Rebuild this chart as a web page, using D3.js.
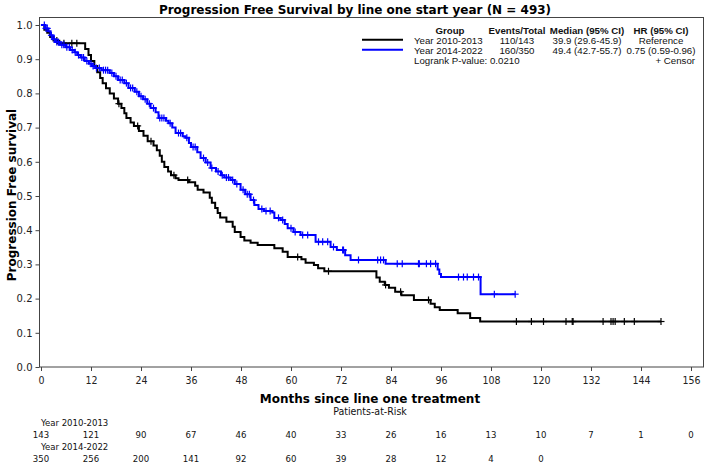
<!DOCTYPE html>
<html><head><meta charset="utf-8">
<script src="https://cdn.jsdelivr.net/npm/d3@7"></script>
<style>body{margin:0;background:#fff} svg{display:block}</style>
</head><body>
<svg id="chart" width="709" height="462"></svg>
<script>
// ---------- data ----------
const titleText = "Progression Free Survival by line one start year (N = 493)";
const xLabel = "Months since line one treatment";
const yLabel = "Progression Free survival";
const groups = ["Year 2010-2013", "Year 2014-2022"];
const groupColors = ["#000000", "#0000ff"];
const eventsTotal = ["110/143", "160/350"];
const medians = ["39.9 (29.6-45.9)", "49.4 (42.7-55.7)"];
const hazardRatios = ["Reference", "0.75 (0.59-0.96)"];
const logrankText = "Logrank P-value: 0.0210";
const xTicks = [0, 12, 24, 36, 48, 60, 72, 84, 96, 108, 120, 132, 144, 156];
const yTicks = [0, 0.1, 0.2, 0.3, 0.4, 0.5, 0.6, 0.7, 0.8, 0.9, 1.0];
const atRisk1 = [143, 121, 90, 67, 46, 40, 33, 26, 16, 13, 10, 7, 1, 0];
const atRisk2 = [350, 256, 200, 141, 92, 60, 39, 28, 12, 4, 0];

// Group 1 (2010-2013) step times (months) and survival after each drop
const times1 = [0, 0.8, 1.5, 2.2, 3.0, 4.0, 10.6, 11.4, 12.0, 12.8, 13.5, 14.2, 14.8, 15.6, 16.5, 17.5, 18.5, 19.3, 20.0, 20.5, 21.5, 22.3, 23.5, 24.6, 25.6, 27.0, 27.8, 28.5, 29.0, 29.6, 30.5, 31.2, 32.3, 33.0, 35.5, 37.0, 37.6, 39.0, 40.5, 41.0, 41.8, 42.4, 43.0, 44.5, 46.0, 46.5, 47.9, 48.8, 50.3, 52.0, 56.0, 58.0, 59.2, 62.5, 63.5, 65.5, 66.5, 68.0, 80.5, 81.3, 82.5, 83.5, 85.0, 86.5, 89.5, 93.5, 94.5, 95.7, 100.0, 103.0, 105.4];
const surv1 = [1, 0.986, 0.977, 0.965, 0.955, 0.947, 0.93, 0.912, 0.895, 0.88, 0.862, 0.845, 0.83, 0.815, 0.80, 0.785, 0.77, 0.757, 0.742, 0.728, 0.715, 0.705, 0.69, 0.676, 0.66, 0.648, 0.634, 0.618, 0.60, 0.585, 0.572, 0.561, 0.552, 0.547, 0.54, 0.53, 0.518, 0.51, 0.495, 0.48, 0.465, 0.45, 0.437, 0.425, 0.41, 0.395, 0.38, 0.37, 0.363, 0.357, 0.347, 0.337, 0.322, 0.315, 0.305, 0.298, 0.289, 0.28, 0.262, 0.249, 0.24, 0.232, 0.22, 0.21, 0.196, 0.185, 0.175, 0.167, 0.157, 0.143, 0.133];
const censor1 = [3.8, 5.5, 7.4, 8.6, 18.7, 23.2, 26.4, 31.9, 35.2, 61.6, 69.0, 82.7, 86.3, 93.0, 114.1, 117.7, 120.6, 126.0, 127.5, 127.7, 134.9, 136.8, 137.3, 137.8, 140.0, 142.4, 148.8];

// Group 2 (2014-2022)
const times2 = [0, 1.0, 1.8, 2.3, 2.8, 3.5, 4.5, 6.0, 7.0, 8.0, 8.7, 9.5, 10.5, 11.5, 12.2, 13.0, 14.5, 16.5, 17.5, 18.5, 20.0, 21.0, 22.5, 23.5, 24.5, 25.5, 26.3, 27.5, 28.2, 30.0, 30.6, 31.5, 32.3, 34.0, 34.7, 35.5, 36.0, 37.5, 38.3, 39.5, 40.7, 42.0, 43.2, 44.0, 45.5, 46.5, 47.9, 49.0, 50.3, 51.2, 52.2, 53.5, 55.5, 56.0, 57.5, 58.5, 59.2, 60.6, 62.3, 65.9, 69.5, 71.0, 73.0, 74.3, 82.7, 95.2, 95.6, 96.0, 105.5];
const surv2 = [1, 0.99, 0.982, 0.97, 0.958, 0.95, 0.942, 0.935, 0.927, 0.92, 0.912, 0.905, 0.895, 0.887, 0.88, 0.874, 0.868, 0.86, 0.85, 0.839, 0.83, 0.816, 0.805, 0.792, 0.783, 0.77, 0.757, 0.745, 0.728, 0.72, 0.713, 0.70, 0.684, 0.675, 0.67, 0.655, 0.643, 0.628, 0.611, 0.598, 0.582, 0.572, 0.561, 0.554, 0.547, 0.535, 0.518, 0.505, 0.488, 0.474, 0.462, 0.456, 0.452, 0.436, 0.43, 0.418, 0.406, 0.395, 0.386, 0.366, 0.351, 0.342, 0.327, 0.313, 0.302, 0.285, 0.272, 0.263, 0.213];
const censor2 = [0.8, 1.2, 1.5, 2.5, 3.2, 3.8, 4.2, 5.0, 5.5, 6.2, 6.8, 7.5, 8.2, 9.0, 9.8, 10.2, 11.0, 12.0, 12.5, 13.3, 14.0, 15.0, 15.5, 16.0, 17.0, 18.0, 19.0, 19.5, 20.5, 21.5, 22.0, 23.0, 24.0, 25.0, 26.0, 27.0, 28.5, 29.0, 29.5, 31.0, 33.0, 33.5, 35.0, 36.5, 37.0, 39.0, 40.0, 41.0, 42.5, 43.5, 44.5, 45.0, 46.0, 47.0, 48.5, 49.5, 50.0, 51.0, 53.0, 54.0, 55.0, 57.0, 58.0, 60.0, 61.0, 62.8, 64.0, 66.6, 67.6, 68.8, 70.2, 72.4, 72.6, 76.2, 80.8, 81.5, 82.2, 85.5, 86.7, 90.6, 90.8, 92.5, 93.5, 94.7, 100.2, 101.4, 102.3, 103.8, 105.0, 108.8, 113.8];

// ---------- layout ----------
const svg = d3.select("#chart");
const frame = {left: 39.5, right: 703.5, top: 17.5, bottom: 367};
const x = d3.scaleLinear().domain([0, 156]).range([41, 691]);
const y = d3.scaleLinear().domain([0, 1]).range([367, 25]);
const sans = "'Liberation Sans', Arial, sans-serif";
const dejavu = "'DejaVu Sans', Verdana, sans-serif";
const cond = "'DejaVu Sans Condensed', 'DejaVu Sans', sans-serif";

function condensed(sel, size) {
  sel.style("font-family", cond).style("font-stretch", "condensed").style("font-size", size);
}

// frame
svg.append("rect").attr("x", frame.left).attr("y", frame.top)
  .attr("width", frame.right - frame.left).attr("height", frame.bottom - frame.top)
  .attr("fill", "none").attr("stroke", "#444").attr("stroke-width", 1);

// axes
const xAxis = svg.append("g").attr("transform", `translate(0,${frame.bottom})`)
  .call(d3.axisBottom(x).tickValues(xTicks).tickSize(4).tickSizeOuter(0).tickFormat(d3.format("d")));
const yAxis = svg.append("g").attr("transform", `translate(${frame.left},0)`)
  .call(d3.axisLeft(y).tickValues(yTicks).tickSize(4).tickSizeOuter(0).tickFormat(d3.format(".1f")));
[xAxis, yAxis].forEach(g => {
  g.select(".domain").remove();
  g.selectAll("line").attr("stroke", "#444");
  g.selectAll("text").attr("fill", "#222");
});
yAxis.selectAll("text").style("font-family", dejavu).style("font-size", "10px");
condensed(xAxis.selectAll("text"), "10.5px");
xAxis.selectAll("text").attr("dy", "0.95em");

// titles
svg.append("text").attr("x", 355).attr("y", 14).attr("text-anchor", "middle")
  .style("font-family", dejavu).style("font-weight", "bold").style("font-size", "12px").text(titleText);
svg.append("text").attr("x", 370).attr("y", 403).attr("text-anchor", "middle")
  .style("font-family", dejavu).style("font-weight", "bold").style("font-size", "12px").text(xLabel);
svg.append("text").attr("transform", `translate(16,195) rotate(-90)`).attr("text-anchor", "middle")
  .style("font-family", dejavu).style("font-weight", "bold").style("font-size", "12px").text(yLabel);

// curves
function survAt(times, surv, t) {
  const i = d3.bisectRight(times, t) - 1;
  return surv[Math.max(0, i)];
}
const line = d3.line().x(d => x(d[0])).y(d => y(d[1])).curve(d3.curveStepAfter);
const series = [
  {times: times1, surv: surv1, censor: censor1, color: groupColors[0]},
  {times: times2, surv: surv2, censor: censor2, color: groupColors[1]}
];
series.forEach(s => {
  const pts = s.times.map((t, i) => [t, s.surv[i]]);
  const last = d3.max(s.censor);
  pts.push([last, s.surv[s.surv.length - 1]]);
  svg.append("path").attr("d", line(pts)).attr("fill", "none")
    .attr("stroke", s.color).attr("stroke-width", 2);
  const cg = svg.append("g").attr("stroke", s.color).attr("stroke-width", 1.2);
  s.censor.forEach(c => {
    const cx = x(c), cy = y(survAt(s.times, s.surv, c));
    cg.append("line").attr("x1", cx - 3.5).attr("x2", cx + 3.5).attr("y1", cy).attr("y2", cy);
    cg.append("line").attr("x1", cx).attr("x2", cx).attr("y1", cy - 3.5).attr("y2", cy + 3.5);
  });
});

// legend
const lg = svg.append("g").style("font-family", sans).style("font-size", "9.7px").attr("fill", "#111");
const colX = {group: 414, events: 517, median: 587, hr: 661};
[["Group", 450], ["Events/Total", colX.events], ["Median (95% CI)", colX.median], ["HR (95% CI)", colX.hr]]
  .forEach(([t, cx]) => lg.append("text").attr("x", cx).attr("y", 33.5).attr("text-anchor", "middle")
    .style("font-weight", "bold").text(t));
groups.forEach((g, i) => {
  const yy = 43.5 + i * 10;
  lg.append("line").attr("x1", 362).attr("x2", 403).attr("y1", yy - 3.8).attr("y2", yy - 3.8)
    .attr("stroke", groupColors[i]).attr("stroke-width", 2);
  lg.append("text").attr("x", colX.group).attr("y", yy).text(g);
  lg.append("text").attr("x", colX.events).attr("y", yy).attr("text-anchor", "middle").text(eventsTotal[i]);
  lg.append("text").attr("x", colX.median).attr("y", yy).attr("text-anchor", "middle").text(medians[i]);
  lg.append("text").attr("x", colX.hr).attr("y", yy).attr("text-anchor", "middle").text(hazardRatios[i]);
});
lg.append("text").attr("x", colX.group).attr("y", 63.5).text(logrankText);
lg.append("text").attr("x", 695).attr("y", 63.5).attr("text-anchor", "end").text("+ Censor");

// risk table
const rt = svg.append("g").attr("fill", "#111");
condensed(rt, "9.5px");
rt.append("text").attr("x", 370).attr("y", 415).attr("text-anchor", "middle")
  .style("font-size", "10.5px").text("Patients-at-Risk");
[atRisk1, atRisk2].forEach((arr, gi) => {
  rt.append("text").attr("x", 41).attr("y", 426 + gi * 24).text(groups[gi]);
  arr.forEach((v, i) => {
    rt.append("text").attr("x", x(xTicks[i])).attr("y", 438 + gi * 23.5).attr("text-anchor", "middle").text(v);
  });
});
</script>
</body></html>
